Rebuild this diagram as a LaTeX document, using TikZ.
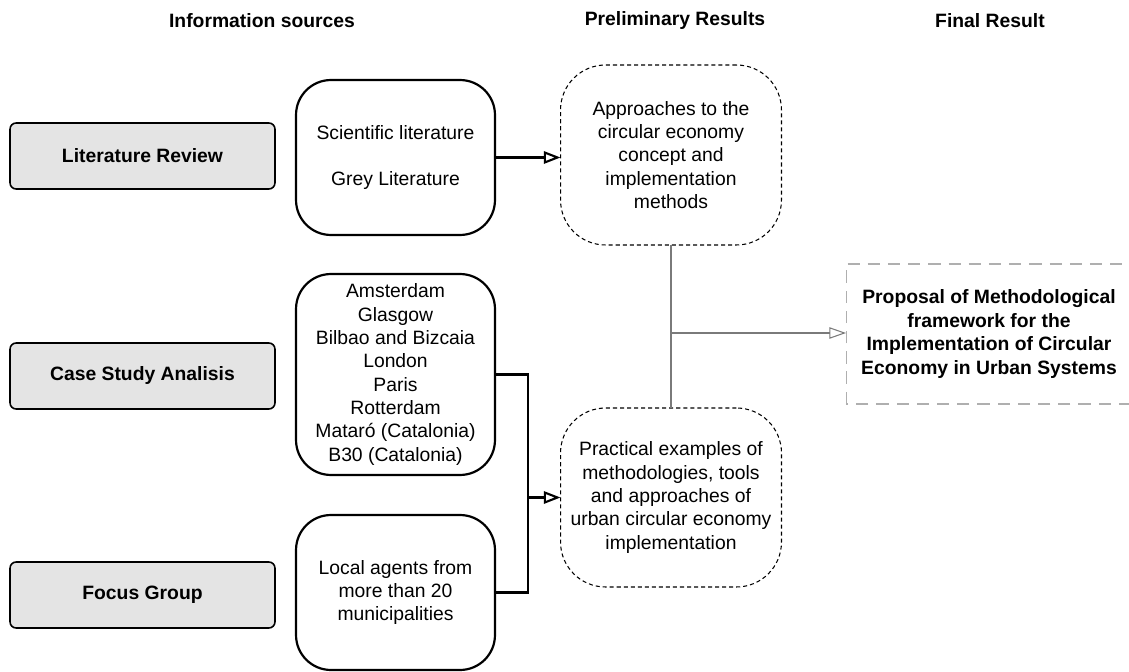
\documentclass[tikz,border=0pt]{standalone}
\usepackage{fontspec}
\setmainfont{Liberation Sans}
\usetikzlibrary{arrows.meta}
\definecolor{boxgrey}{HTML}{E4E4E4}
\definecolor{linegrey}{HTML}{7A7A7A}
\definecolor{dashgrey}{HTML}{AFAFAF}
\begin{document}
\begin{tikzpicture}[x=0.02cm,y=-0.02cm]
            \tikzstyle{every node}+=[inner sep=0pt, outer sep=0pt, align=center, font=\fontsize{11}{13.3}\selectfont]
            \tikzstyle{head}=[font=\fontsize{11}{13.3}\selectfont\bfseries]
            \tikzstyle{method}=[draw, fill=boxgrey, line width=0.9pt, rounded corners=3.5pt, minimum width=5.3cm, minimum height=1.32cm, font=\fontsize{11}{13.3}\selectfont\bfseries]
            \tikzstyle{source}=[draw, line width=1.25pt, rounded corners=0.7cm, minimum width=3.98cm]
            \tikzstyle{result}=[draw, line width=0.6pt, dash pattern=on 2.3pt off 1.7pt, rounded corners=0.9cm, minimum width=4.42cm, minimum height=3.6cm]
            \tikzstyle{final}=[minimum width=5.72cm, minimum height=2.8cm, font=\fontsize{11}{13.3}\selectfont\bfseries]
            \tikzstyle{finalframe}=[draw=dashgrey, line width=0.6pt, dash pattern=on 7pt off 4.5pt]
            \tikzstyle{link}=[line width=1.2pt, -{Triangle[open, length=9.5pt, width=7pt]}]
            \tikzstyle{greylink}=[line width=0.6pt, draw=linegrey, -{Triangle[open, length=9.5pt, width=6.5pt]}]
            \useasboundingbox (0,0) rectangle (1129,672);
            \node [head] (infohead) at (262,21) {Information sources};
            \node [head] (prelimhead) at (675,21) {Preliminary Results};
            \node [head] (finalhead) at (990,21) {Final Result};
            \node [method] (litrev) at (142.5,156) {Literature Review};
            \node [method] (casestudy) at (142.5,376) {Case Study Analisis};
            \node [method] (focus) at (142.5,595) {Focus Group};
            \node [source, minimum height=3.1cm] (literature) at (395.5,157.5) {Scientific literature\\[13.3pt]Grey Literature};
            \node [source, minimum height=4.02cm] (cities) at (395.5,374.5) {Amsterdam\\Glasgow\\Bilbao and Bizcaia\\London\\Paris\\Rotterdam\\Mataró (Catalonia)\\B30 (Catalonia)};
            \node [source, minimum height=3.1cm] (agents) at (395.5,592.5) {Local agents from\\more than 20\\municipalities};
            \node [result] (approaches) at (671,155) {Approaches to the\\circular economy\\concept and\\implementation\\methods};
            \node [result, minimum height=3.58cm] (examples) at (671,497.5) {Practical examples of\\methodologies, tools\\and approaches of\\urban circular economy\\implementation};
            \node [final] (proposal) at (989,334) {Proposal of Methodological\\framework for the\\Implementation of Circular\\Economy in Urban Systems};
            \draw [finalframe] (proposal.south west) rectangle ([xshift=1cm]proposal.north east);
            \coordinate (bend) at (528,497.5);
            \coordinate (mid) at (671,333);
            \draw [link] (literature.east) -- (literature.east -| approaches.west);
            \draw [line width=1.2pt] (cities.east) -| (bend) |- (agents.east);
            \draw [link] (bend) -- (examples.west);
            \draw [line width=0.6pt, draw=linegrey] (approaches.south) -- (examples.north);
            \draw [greylink] (mid) -- (mid -| proposal.west);
        \end{tikzpicture}
\end{document}
